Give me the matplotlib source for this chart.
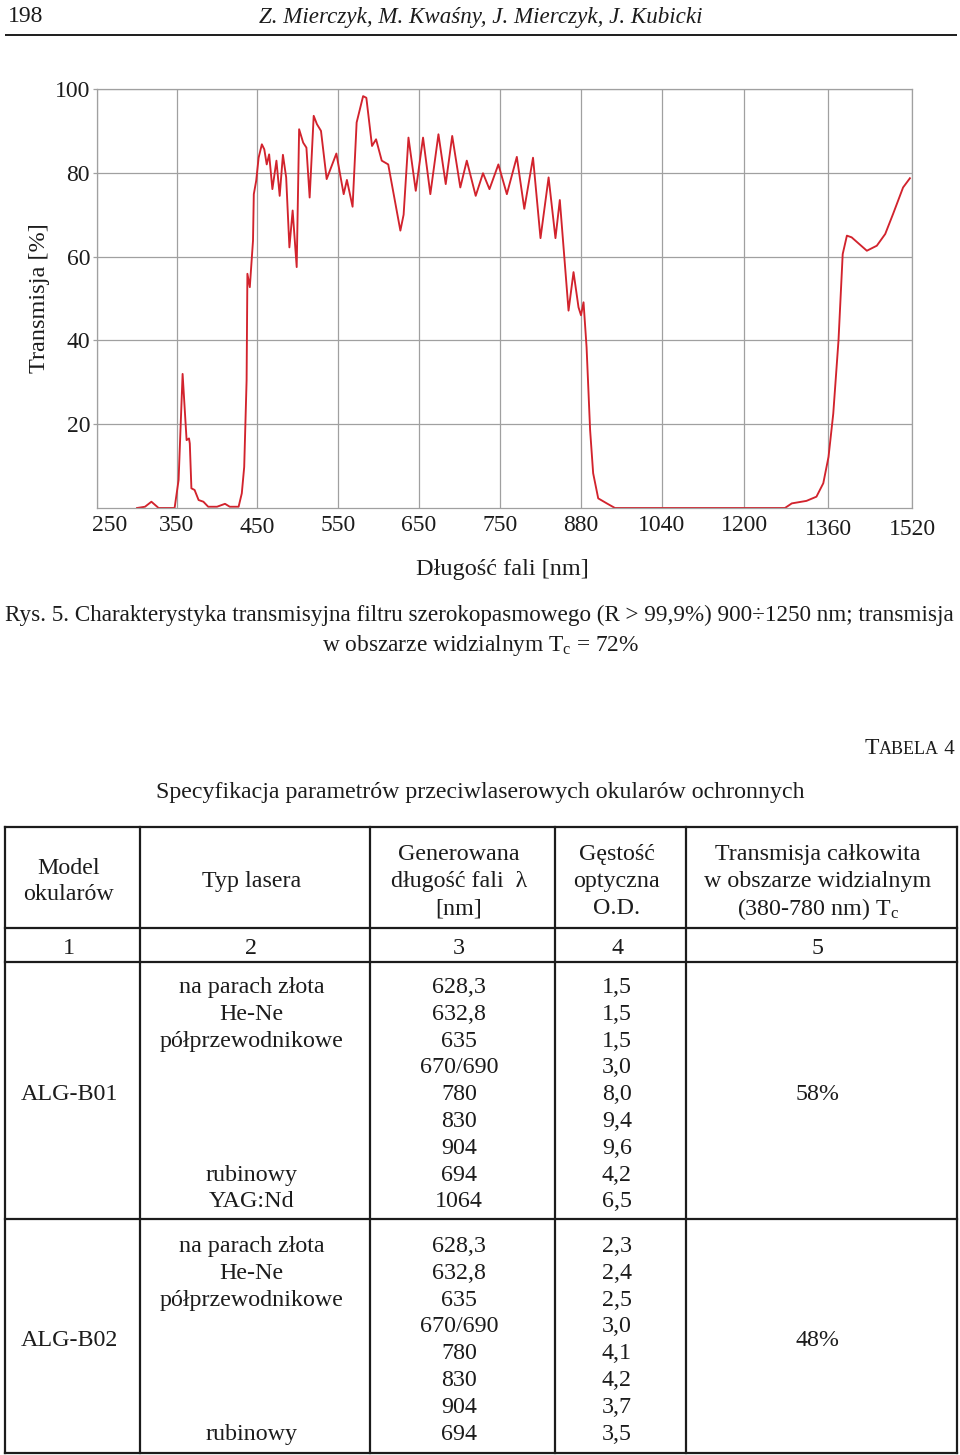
import numpy as np
import matplotlib
matplotlib.use("Agg")
import matplotlib.pyplot as plt
import matplotlib.transforms as mtransforms

plt.rcParams['font.family'] = ['Liberation Serif', 'DejaVu Serif']
plt.rcParams['mathtext.fontset'] = 'custom'
plt.rcParams['mathtext.rm'] = 'Liberation Serif'
plt.rcParams['mathtext.it'] = 'Liberation Serif:italic'

# ---------------- data ----------------
tick_nm = [250, 350, 450, 550, 650, 750, 880, 1040, 1200, 1360, 1520]
tick_labels = ["250", "350", "450", "550", "650", "750", "880", "1040", "1200", "1360", "1520"]
y_ticks = [20, 40, 60, 80, 100]

wavelength_nm = [300, 310, 318, 327, 347, 352, 357, 362, 365, 366, 368, 372, 377, 383, 389,
                 400, 410, 416, 427, 431, 434, 437, 438, 441, 445, 446, 449, 452, 456, 459,
                 462, 465, 469, 474, 478, 482, 486, 490, 494, 499, 502, 507, 511, 515, 520,
                 524, 529, 536, 548, 557, 561, 568, 573, 581, 585, 592, 597, 604, 612, 627,
                 631, 637, 646, 655, 664, 674, 683, 691, 701, 709, 720, 729, 737, 748, 761,
                 777, 789, 803, 815, 828, 839, 846, 860, 868, 876, 880, 885, 891, 898, 904,
                 914, 931, 947, 1278, 1291, 1319, 1338, 1351, 1361, 1370, 1380, 1388, 1396,
                 1405, 1434, 1453, 1469, 1484, 1503, 1516]
transmission = [0, 0.3, 1.5, 0, 0, 6.7, 32, 16.2, 16.6, 15.4, 4.7, 4.3, 1.9, 1.5, 0.3,
                0.3, 1.0, 0.3, 0.3, 3.5, 9.8, 30.5, 55.9, 52.7, 63.8, 74.9, 78.1, 83.6, 86.8, 85.6,
                82, 84.4, 76.1, 82.9, 74.5, 84.3, 78.9, 62.2, 71, 57.5, 90.4, 87.2, 86, 74.1, 93.6,
                91.6, 90, 78.5, 84.6, 74.9, 78.3, 71.9, 92, 98.3, 97.9, 86.4, 88, 82.9, 82, 66.2,
                70, 88.4, 75.7, 88.4, 74.9, 89.2, 77.3, 88.8, 76.5, 82.9, 74.5, 79.9, 76.1, 82, 74.9,
                83.8, 71.4, 83.6, 64.4, 78.9, 64.4, 73.5, 47.1, 56.3, 47.9, 46, 49.1, 38.4, 18.6, 8.3,
                2.3, 1.1, 0, 0, 1.1, 1.7, 2.7, 5.9, 12.2, 22.5, 40, 60.6, 65,
                64.6, 61.4, 62.6, 65.4, 70.2, 76.5, 78.7]

page_number = "198"
running_head = "Z. Mierczyk, M. Kwaśny, J. Mierczyk, J. Kubicki"
y_label = "Transmisja [%]"
x_label = "Długość fali [nm]"
caption_1 = "Rys. 5. Charakterystyka transmisyjna filtru szerokopasmowego (R > 99,9%) 900÷1250 nm; transmisja"
caption_2 = "w obszarze widzialnym T$_{\\mathrm{c}}$ = 72%"
table_title = "Specyfikacja parametrów przeciwlaserowych okularów ochronnych"

col_headers = [["Model", "okularów"],
               ["Typ lasera"],
               ["Generowana", "długość fali  λ", "[nm]"],
               ["Gęstość", "optyczna", "O.D."],
               ["Transmisja całkowita", "w obszarze widzialnym", "(380-780 nm) T$_{\\mathrm{c}}$"]]
col_numbers = ["1", "2", "3", "4", "5"]
models = ["ALG-B01", "ALG-B02"]
visible_tc = ["58%", "48%"]
b01_lasers = ["na parach złota", "He-Ne", "półprzewodnikowe", "", "", "", "", "rubinowy", "YAG:Nd"]
b01_wavelength = ["628,3", "632,8", "635", "670/690", "780", "830", "904", "694", "1064"]
b01_od = ["1,5", "1,5", "1,5", "3,0", "8,0", "9,4", "9,6", "4,2", "6,5"]
b02_lasers = ["na parach złota", "He-Ne", "półprzewodnikowe", "", "", "", "", "rubinowy"]
b02_wavelength = ["628,3", "632,8", "635", "670/690", "780", "830", "904", "694"]
b02_od = ["2,3", "2,4", "2,5", "3,0", "4,1", "4,2", "3,7", "3,5"]

# ---------------- figure ----------------
W, H = 960, 1455
fig = plt.figure(figsize=(W / 100, H / 100), dpi=100)
renderer = fig.canvas.get_renderer()

page = fig.add_axes([0, 0, 1, 1])
page.set_xlim(0, W)
page.set_ylim(H, 0)
page.axis('off')

INK = '#1c1c1c'
FS = 17.3


def fit(t, width):
    bb = t.get_window_extent(renderer)
    t.set_fontsize(t.get_fontsize() * width / bb.width)


def txt(x, y, s, size=FS, ha='center', va='center_baseline', **kw):
    return page.text(x, y, s, fontsize=size, ha=ha, va=va, color=INK, **kw)


# running head
txt(8, 14, page_number, size=17, ha='left')
t = txt(481, 15, running_head, size=17, style='italic')
fit(t, 443)
page.plot([5, 957], [35, 35], color=INK, lw=1.4, solid_capstyle='butt')

# ---------------- chart ----------------
L, R, T, B = 97, 912, 89, 508
ax = fig.add_axes([L / W, 1 - B / H, (R - L) / W, (B - T) / H])
grid_pos = np.array([0, 80, 160, 241, 322, 403, 484, 565, 647, 731, 815], float)


def fwd(x):
    return np.interp(x, tick_nm, grid_pos)


def inv(p):
    return np.interp(p, grid_pos, tick_nm)


ax.set_xscale('function', functions=(fwd, inv))
ax.plot(wavelength_nm, transmission, color='#d2232d', lw=1.35, solid_joinstyle='round')
ax.set_xlim(250, 1520)
ax.set_ylim(0, 100)
ax.set_xticks(tick_nm, labels=tick_labels)
ax.set_yticks(y_ticks)
GRID = '#a0a0a0'
ax.grid(True, color=GRID, lw=0.9)
ax.set_axisbelow(True)
for sp in ax.spines.values():
    sp.set_color(GRID)
    sp.set_linewidth(0.9)
ax.tick_params(axis='x', length=0, pad=5, labelsize=17, labelcolor=INK)
ax.tick_params(axis='y', length=3, width=0.9, color=GRID, pad=2, labelsize=17, labelcolor=INK)
# small offsets of some tick labels as printed
x_offsets = {0: (13, 0), 2: (0, -2), 9: (0, -4), 10: (0, -4)}
for i, lab in enumerate(ax.get_xticklabels()):
    if i in x_offsets:
        dx, dy = x_offsets[i]
        lab.set_transform(lab.get_transform() +
                          mtransforms.ScaledTranslation(dx / 100, dy / 100, fig.dpi_scale_trans))
ax.set_ylabel(y_label, fontsize=17.5, color=INK)
ax.yaxis.set_label_coords(-0.058, 0.5)
ax.set_xlabel(x_label, fontsize=17.5, color=INK)
ax.xaxis.set_label_coords(0.497, -0.122)

# ---------------- caption ----------------
t = txt(5, 613, caption_1, size=16.8, ha='left')
fit(t, 952)
txt(481, 642, caption_2, size=16.8)

# ---------------- table ----------------
def small_caps(x_right, y, pieces):
    # pieces: (text, size) drawn left to right ending at x_right
    arts = [page.text(0, y, s, fontsize=sz, ha='left', va='baseline', color=INK) for s, sz in pieces]
    widths = [a.get_window_extent(renderer).width for a in arts]
    x = x_right - sum(widths)
    for a, w in zip(arts, widths):
        a.set_x(x)
        x += w


small_caps(955, 754, [("T", 17), ("ABELA", 13), (" 4", 15)])
t = txt(480, 790, table_title, size=FS)
fit(t, 647)

xs = [5, 140, 370, 555, 686, 957]
ys = [827, 928, 962, 1219, 1453]
for x in xs:
    page.plot([x, x], [ys[0], ys[-1]], color=INK, lw=1.6, solid_capstyle='projecting')
for y in ys:
    page.plot([xs[0], xs[-1]], [y, y], color=INK, lw=1.6, solid_capstyle='projecting')

centers = [(xs[i] + xs[i + 1]) / 2 - 3.5 for i in range(5)]
for c, lines in zip(centers, col_headers):
    n = len(lines)
    y0 = 879 - (n - 1) * 27 / 2
    for k, s in enumerate(lines):
        txt(c, y0 + k * 27, s)
for c, s in zip(centers, col_numbers):
    txt(c, 946, s)

row_h = 26.8
groups = [(985, b01_lasers, b01_wavelength, b01_od), (1244, b02_lasers, b02_wavelength, b02_od)]
for g, (ystart, lasers, wls, ods) in enumerate(groups):
    n = len(wls)
    for i in range(n):
        y = ystart + i * row_h
        if lasers[i]:
            txt(centers[1], y, lasers[i])
        txt(centers[2], y, wls[i])
        txt(centers[3], y, ods[i])
    ymid = ystart + (n - 1) * row_h / 2
    txt(centers[0], ymid, models[g])
    txt(centers[4], ymid, visible_tc[g])

fig.savefig("out.png", dpi=100)
